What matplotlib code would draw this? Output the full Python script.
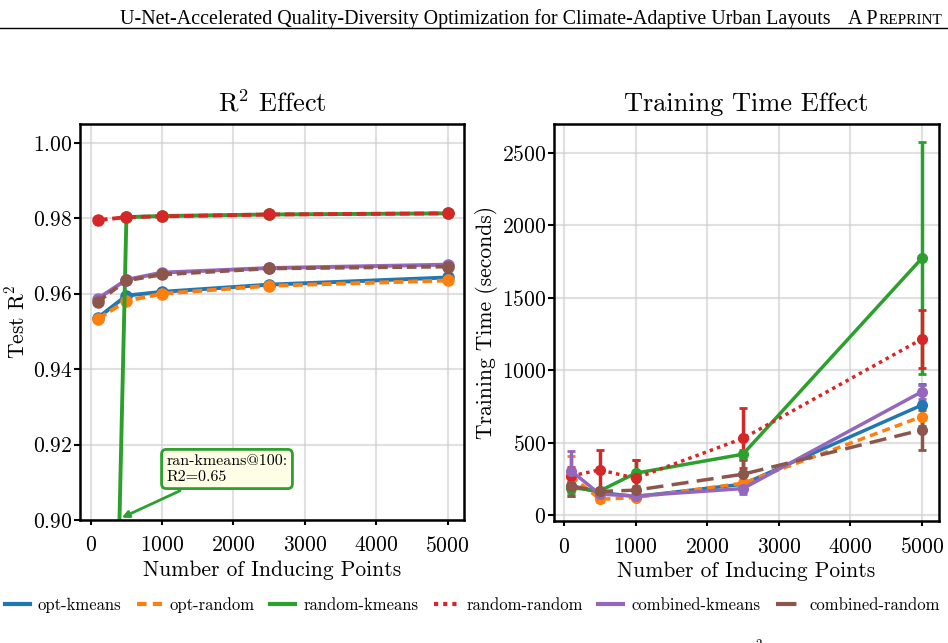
import matplotlib
matplotlib.use("Agg")
import matplotlib.pyplot as plt
from matplotlib.lines import Line2D

plt.rcParams["font.family"] = "serif"
plt.rcParams["font.serif"] = ["cmr10"]
plt.rcParams["mathtext.fontset"] = "cm"
plt.rcParams["axes.formatter.use_mathtext"] = True

# inducing points
n_points = [100, 500, 1000, 2500, 5000]

labels = ["opt-kmeans", "opt-random", "random-kmeans",
          "random-random", "combined-kmeans", "combined-random"]
colors = ["#1f77b4", "#ff7f0e", "#2ca02c", "#d62728", "#9467bd", "#8c564b"]

# test R^2 per strategy
r2_opt_kmeans = [0.9536, 0.9595, 0.9605, 0.9624, 0.9643]
r2_opt_random = [0.9533, 0.9581, 0.9600, 0.9621, 0.9635]
r2_random_kmeans = [0.65, 0.9803, 0.9806, 0.9810, 0.9813]
r2_random_random = [0.9795, 0.9803, 0.9805, 0.9810, 0.9813]
r2_combined_kmeans = [0.9587, 0.9637, 0.9656, 0.9668, 0.9677]
r2_combined_random = [0.9579, 0.9635, 0.9651, 0.9667, 0.9672]

# training time (s), mean and std
t_opt_kmeans = [202, 157, 129, 214, 760]
t_opt_random = [271, 110, 122, 221, 681]
t_random_kmeans = [190, 168, 290, 421, 1773]
t_random_random = [271, 313, 255, 530, 1215]
t_combined_kmeans = [306, 145, 133, 184, 852]
t_combined_random = [202, 164, 173, 283, 589]

s_opt_kmeans = [30, 20, 15, 30, 145]
s_opt_random = [140, 20, 15, 25, 100]
s_random_kmeans = [40, 20, 90, 30, 800]
s_random_random = [60, 138, 125, 207, 200]
s_combined_kmeans = [138, 20, 15, 35, 50]
s_combined_random = [70, 20, 20, 100, 140]

r2_all = [r2_opt_kmeans, r2_opt_random, r2_random_kmeans,
          r2_random_random, r2_combined_kmeans, r2_combined_random]
t_all = [t_opt_kmeans, t_opt_random, t_random_kmeans,
         t_random_random, t_combined_kmeans, t_combined_random]
s_all = [s_opt_kmeans, s_opt_random, s_random_kmeans,
         s_random_random, s_combined_kmeans, s_combined_random]

left_styles = ["-", (0, (2.5, 1.2)), "-", (0, (2.5, 1.2)), "-", (0, (2.5, 1.2))]
right_styles = ["-", (0, (2.3, 1.5)), "-", (0, (1.0, 1.2)), "-", (0, (4.9, 2.4))]

fig = plt.figure(figsize=(9.48, 6.43), dpi=100)
ax1 = fig.add_axes([0.0844, 0.1913, 0.4051, 0.6159])
ax2 = fig.add_axes([0.5844, 0.1897, 0.4061, 0.6175])

for vals, c, ls in zip(r2_all, colors, left_styles):
    ax1.plot(n_points, vals, color=c, linestyle=ls, linewidth=2.8,
             marker="o", markersize=8)

ax1.set_ylim(0.90, 1.005)
ax1.set_xlim(-150, 5230)
ax1.set_yticks([0.90, 0.92, 0.94, 0.96, 0.98, 1.00])
ax1.set_title(r"R$^2$ Effect", fontsize=19, pad=9)
ax1.set_xlabel("Number of Inducing Points", fontsize=15.5, labelpad=3)
ax1.set_ylabel(r"Test R$^2$", fontsize=15.5, labelpad=3)

ax1.annotate("ran-kmeans@100:\nR2=0.65", xy=(400, 0.9003),
             xytext=(1060, 0.9096), fontsize=11.5, ha="left", va="bottom",
             bbox=dict(boxstyle="round,pad=0.3", fc="#fefee6", ec="#2ca02c", lw=2),
             arrowprops=dict(arrowstyle="-|>", color="#2ca02c", lw=2,
                             mutation_scale=10))

for vals, err, c, ls in zip(t_all, s_all, colors, right_styles):
    ax2.errorbar(n_points, vals, yerr=err, color=c, linestyle=ls,
                 linewidth=2.5, marker="o", markersize=7,
                 elinewidth=2.5, capsize=3, capthick=2)

ax2.set_ylim(-40, 2700)
ax2.set_xlim(-140, 5240)
ax2.set_yticks([0, 500, 1000, 1500, 2000, 2500])
ax2.set_title("Training Time Effect", fontsize=19, pad=9)
ax2.set_xlabel("Number of Inducing Points", fontsize=15.5, labelpad=3)
ax2.set_ylabel("Training Time (seconds)", fontsize=15.5, labelpad=3)

for ax in (ax1, ax2):
    ax.set_xticks([0, 1000, 2000, 3000, 4000, 5000])
    ax.grid(True, color="#cccccc", alpha=0.6, linewidth=1.5)
    ax.set_axisbelow(True)
    ax.tick_params(labelsize=15.5, width=1.5)
    ax.tick_params(axis="x", length=3.5, pad=8)
    ax.tick_params(axis="y", length=4.5, pad=1)
    for sp in ax.spines.values():
        sp.set_linewidth(1.8)

handles = [Line2D([], [], color=c, linestyle=ls, linewidth=3)
           for c, ls in zip(colors, right_styles)]
fig.legend(handles, labels, loc="center", bbox_to_anchor=(0.498, 0.059),
           ncol=6, frameon=False, fontsize=12, handlelength=1.5,
           columnspacing=0.9, handletextpad=0.5, borderaxespad=0)

# page header
fig.text(0.127, 0.962, "U-Net-Accelerated Quality-Diversity Optimization "
         "for Climate-Adaptive Urban Layouts",
         fontsize=14.4, family="Liberation Serif", va="baseline")
fig.text(0.8945, 0.962, "A P", fontsize=14.4, family="Liberation Serif",
         va="baseline")
fig.text(0.9265, 0.962, "REPRINT", fontsize=11, family="Liberation Serif",
         va="baseline")
fig.add_artist(Line2D([0.0, 1.0], [0.957, 0.957], color="black", linewidth=1.0,
                      transform=fig.transFigure))
fig.text(0.797, -0.008, "2", fontsize=9)

fig.savefig("out.png", dpi=100)
